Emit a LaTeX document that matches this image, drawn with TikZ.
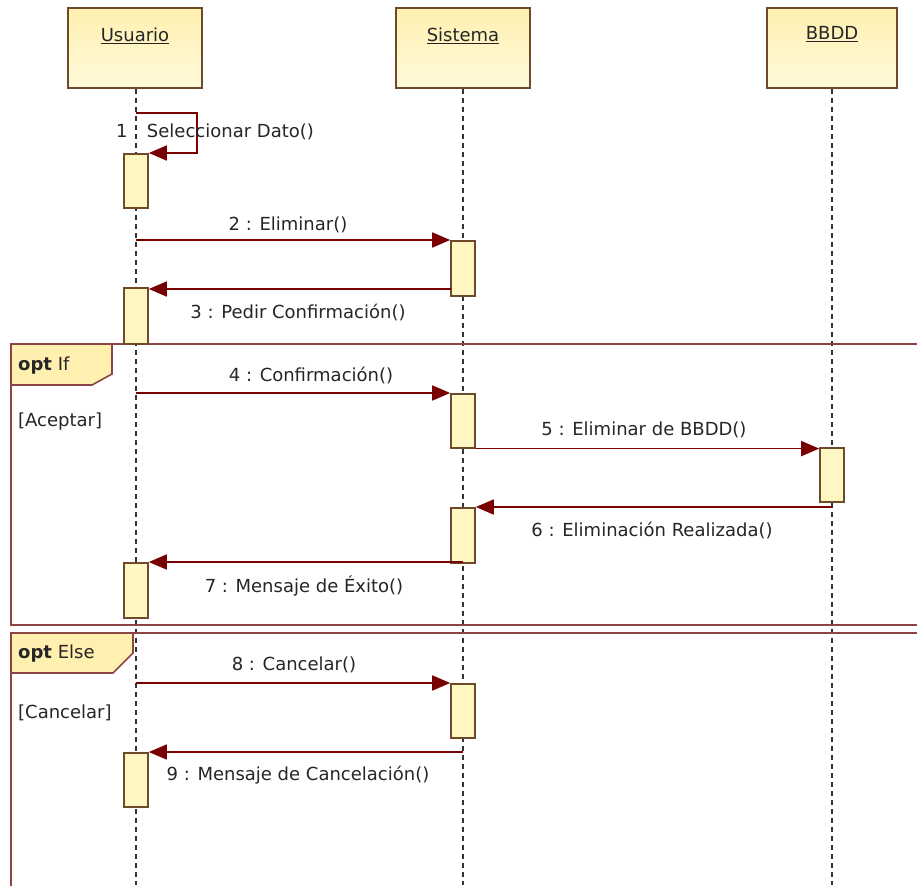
\documentclass[tikz,border=0pt]{standalone}
\usepackage{fontspec}
\setmainfont{DejaVu Sans}
\usetikzlibrary{arrows.meta}
\definecolor{msg}{HTML}{780000}
\definecolor{frm}{HTML}{8B4545}
\definecolor{boxfill}{HTML}{FFF7C2}
\definecolor{boxtop}{HTML}{FFF0B0}
\definecolor{boxdraw}{HTML}{6E4A2A}
\begin{document}
\begin{tikzpicture}[x=1pt,y=-1pt, font=\fontsize{18}{21}\selectfont,
 head/.style={draw=boxdraw, line width=1.6pt, top color=boxtop, bottom color=boxfill!60!white, minimum width=134pt, minimum height=80pt, inner sep=0pt},
 act/.style={draw=boxdraw, line width=1.6pt, fill=boxfill, minimum width=24pt, inner sep=0pt},
 life/.style={dash pattern=on 5pt off 4pt, line width=1.6pt, draw=black!80},
 msgline/.style={draw=msg, line width=1.6pt, -{Triangle[length=18pt,width=15pt]}},
 lbl/.style={inner sep=0pt, text=black!85},
 frameline/.style={draw=frm, line width=1.6pt},
 tabbox/.style={draw=frm, line width=1.6pt, fill=boxtop}]
\useasboundingbox (0,0) rectangle (917,885);
\clip (0,0) rectangle (917,885);
\fill[white] (0,0) rectangle (917,885);

% headers
\node[head] (usr) at (135,48) {};
\node[head] (sis) at (463,48) {};
\node[head, minimum width=130pt] (bd) at (832,48) {};
\node[lbl] (usrT) at (135,36) {\underline{Usuario}};
\node[lbl] (sisT) at (463,36) {\underline{Sistema}};
\node[lbl] (bdT) at (832,34) {\underline{BBDD}};

% lifeline ends
\coordinate (usrEnd) at (136,885);
\coordinate (sisEnd) at (463,885);
\coordinate (bdEnd) at (832,885);
\draw[life] (usr.south -| usrEnd) -- (usrEnd);
\draw[life] (sis.south -| sisEnd) -- (sisEnd);
\draw[life] (bd.south -| bdEnd) -- (bdEnd);

% frames
\draw[frameline] (930,344) -- (11,344) -- (11,625) -- (930,625);
\draw[tabbox] (11,344) -- (112,344) -- (112,374) -- (92,385) -- (11,385) -- cycle;
\node[lbl, anchor=west] (opt1) at (18,366) {\textbf{opt} If};
\node[lbl, anchor=west] (g1) at (18,422) {[Aceptar]};

\draw[frameline] (930,633) -- (11,633) -- (11,900);
\draw[tabbox] (11,633) -- (133,633) -- (133,653) -- (113,673) -- (11,673) -- cycle;
\node[lbl, anchor=west] (opt2) at (18,654) {\textbf{opt} Else};
\node[lbl, anchor=west] (g2) at (18,713) {[Cancelar]};

% activations
\node[act, anchor=north, minimum height=54pt] (u1) at (136,153) {};
\node[act, anchor=north, minimum height=55pt] (s1) at (463,240) {};
\node[act, anchor=north, minimum height=56pt] (u2) at (136,287) {};
\node[act, anchor=north, minimum height=54pt] (s2) at (463,393) {};
\node[act, anchor=north, minimum height=54pt] (b1) at (832,447) {};
\node[act, anchor=north, minimum height=55pt] (s3) at (463,507) {};
\node[act, anchor=north, minimum height=55pt] (u3) at (136,562) {};
\node[act, anchor=north, minimum height=54pt] (s4) at (463,683) {};
\node[act, anchor=north, minimum height=54pt] (u4) at (136,752) {};

% message points
\coordinate (m1a) at (136,113);
\coordinate (m1b) at (197,113);
\coordinate (m1c) at (197,153);
\coordinate (m2a) at (136,240);
\coordinate (m3a) at (451,289);
\coordinate (m4a) at (136,393);
\coordinate (m6a) at (832,507);
\coordinate (m7a) at (463,562);
\coordinate (m8a) at (136,683);
\coordinate (m9a) at (463,752);

\draw[msgline] (m1a) -- (m1b) -- (m1c) -- (u1.north east);
\draw[msgline] (m2a) -- (s1.north west);
\draw[msgline] (m3a) -- (m3a -| u2.east);
\draw[msgline] (m4a) -- (s2.north west);
\draw[msgline] (s2.south east) -- (s2.south east -| b1.west);
\draw[msgline] (m6a) -- (m6a -| s3.east);
\draw[msgline] (m7a) -- (m7a -| u3.east);
\draw[msgline] (m8a) -- (s4.north west);
\draw[msgline] (m9a) -- (m9a -| u4.east);

% labels
\node[lbl] (l1) at (215,132) {1 : Seleccionar Dato()};
\node[lbl] (l2) at (288,225) {2 : Eliminar()};
\node[lbl] (l3) at (298,312) {3 : Pedir Confirmación()};
\node[lbl] (l4) at (311,375) {4 : Confirmación()};
\node[lbl] (l5) at (644,430) {5 : Eliminar de BBDD()};
\node[lbl] (l6) at (652,530) {6 : Eliminación Realizada()};
\node[lbl] (l7) at (304,586) {7 : Mensaje de Éxito()};
\node[lbl] (l8) at (294,665) {8 : Cancelar()};
\node[lbl] (l9) at (298,775) {9 : Mensaje de Cancelación()};
\end{tikzpicture}
\end{document}
